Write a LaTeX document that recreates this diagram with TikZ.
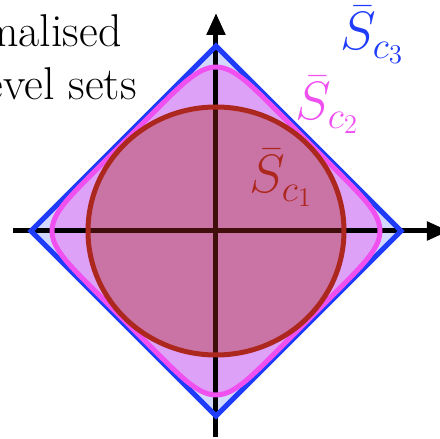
\RequirePackage{fix-cm}
\documentclass[tikz,border=0pt]{standalone}
\usepackage{amsmath,amssymb}
\usepackage{tikz}
\usetikzlibrary{
    arrows.meta,
    calc
}

\begin{document}
\begin{tikzpicture}[x=0.5pt, y=0.5pt,
    axis/.style={line width=2.5pt, -{Triangle[length=11pt, width=9pt]}},
    levelset/.style={line width=2.5pt},
    setlabel/.style={anchor=base west, inner sep=0pt, font=\fontsize{27}{30}\selectfont},
    headtext/.style={anchor=base east, inner sep=0pt, font=\fontsize{23}{26}\selectfont}]

\useasboundingbox (-216,-208) rectangle (224,231);
\clip (-216,-208) rectangle (224,231);

% Colours of the three level sets
\definecolor{oneColor}{RGB}{172,40,30}
\definecolor{twoColor}{RGB}{240,80,240}
\definecolor{threeColor}{RGB}{30,60,250}

% Squircle parameters (rotated frame)
\def\sqb{128}
\def\sqe{0.2857}

% Outer level set: diamond (fill)
\fill[threeColor, opacity=0.2] (-185,0) -- (0,185) -- (185,0) -- (0,-185) -- cycle;

% Middle level set: rounded diamond (fill)
\fill[twoColor, opacity=0.4]
    plot[domain=0.5:360.5, samples=361]
    ({0.7071*\sqb*(cos(\x)*pow(abs(cos(\x)),\sqe-1) - sin(\x)*pow(abs(sin(\x)),\sqe-1))},
     {0.7071*\sqb*(cos(\x)*pow(abs(cos(\x)),\sqe-1) + sin(\x)*pow(abs(sin(\x)),\sqe-1))}) -- cycle;

% Axes
\coordinate (origin) at (0,0);
\draw[axis] (-203,0) -- (233,0);
\draw[axis] (0,-206) -- (0,218);

% Inner level set: ellipse (fill over the axes)
\fill[oneColor, opacity=0.38] (origin) ellipse [x radius=128, y radius=124];

% Outlines
\draw[threeColor, levelset] (-185,0) -- (0,185) -- (185,0) -- (0,-185) -- cycle;
\draw[twoColor, levelset]
    plot[domain=0.5:360.5, samples=361]
    ({0.7071*\sqb*(cos(\x)*pow(abs(cos(\x)),\sqe-1) - sin(\x)*pow(abs(sin(\x)),\sqe-1))},
     {0.7071*\sqb*(cos(\x)*pow(abs(cos(\x)),\sqe-1) + sin(\x)*pow(abs(sin(\x)),\sqe-1))}) -- cycle;
\draw[oneColor, levelset] (origin) ellipse [x radius=128, y radius=124];

% Labels
\node[setlabel, text=threeColor] (labelThree) at (124,181) {$\bar{S}_{c_3}$};
\node[setlabel, text=twoColor] (labelTwo) at (79,111) {$\bar{S}_{c_2}$};
\node[setlabel, text=oneColor] (labelOne) at (33,38) {$\bar{S}_{c_1}$};

% Title
\node[headtext] (headOne) at (-94,184) {Normalised};
\node[headtext] (headTwo) at (-79,131) {level sets};

\end{tikzpicture}
\end{document}
